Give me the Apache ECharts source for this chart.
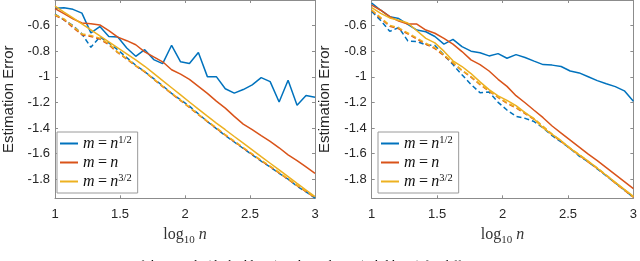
<!DOCTYPE html>
<html><head><meta charset="utf-8">
<script src="https://cdn.jsdelivr.net/npm/echarts@6/dist/echarts.min.js"></script>
<style>html,body{margin:0;padding:0;background:#fff}#c{width:640px;height:261px}</style>
</head><body><div id="c"></div>
<script>
// log10 n sample points
const xVals = [1.000,1.069,1.138,1.207,1.276,1.345,1.414,1.483,1.552,1.621,1.690,1.759,1.828,1.897,1.966,2.034,2.103,2.172,2.241,2.310,2.379,2.448,2.517,2.586,2.655,2.724,2.793,2.862,2.931,3.000];
const xTicks = [1, 1.5, 2, 2.5, 3];
const yTicks = [-1.8, -1.6, -1.4, -1.2, -1, -0.8, -0.6];
const legendNames = ['m = n^{1/2}', 'm = n', 'm = n^{3/2}'];

// Left panel
const leftSolidHalf = [-0.464,-0.461,-0.473,-0.503,-0.657,-0.608,-0.685,-0.690,-0.775,-0.840,-0.788,-0.866,-0.897,-0.754,-0.883,-0.897,-0.810,-0.999,-0.999,-1.094,-1.128,-1.100,-1.064,-1.007,-1.038,-1.197,-1.027,-1.223,-1.147,-1.160];
const leftSolidOne = [-0.468,-0.507,-0.548,-0.580,-0.586,-0.595,-0.640,-0.690,-0.718,-0.750,-0.806,-0.845,-0.883,-0.945,-0.980,-1.020,-1.075,-1.130,-1.190,-1.245,-1.310,-1.370,-1.413,-1.460,-1.505,-1.555,-1.610,-1.655,-1.705,-1.755];
const leftSolidThreeHalf = [-0.447,-0.494,-0.540,-0.587,-0.634,-0.681,-0.727,-0.775,-0.821,-0.868,-0.918,-0.974,-1.030,-1.086,-1.142,-1.197,-1.253,-1.308,-1.362,-1.414,-1.467,-1.519,-1.571,-1.624,-1.676,-1.728,-1.780,-1.833,-1.885,-1.937];
const leftDashHalf = [-0.510,-0.555,-0.600,-0.665,-0.770,-0.690,-0.735,-0.790,-0.850,-0.910,-0.960,-1.015,-1.070,-1.130,-1.180,-1.230,-1.290,-1.350,-1.405,-1.460,-1.510,-1.560,-1.610,-1.660,-1.705,-1.755,-1.800,-1.855,-1.900,-1.948];
const leftDashOne = [-0.520,-0.555,-0.615,-0.672,-0.685,-0.705,-0.750,-0.812,-0.862,-0.915,-0.962,-1.020,-1.077,-1.132,-1.186,-1.240,-1.297,-1.350,-1.403,-1.456,-1.507,-1.557,-1.607,-1.657,-1.703,-1.752,-1.802,-1.851,-1.897,-1.945];
const leftDashThreeHalf = [-0.515,-0.548,-0.605,-0.665,-0.678,-0.698,-0.742,-0.808,-0.858,-0.912,-0.958,-1.018,-1.073,-1.128,-1.183,-1.238,-1.293,-1.348,-1.398,-1.453,-1.503,-1.553,-1.603,-1.653,-1.698,-1.748,-1.798,-1.848,-1.893,-1.943];

// Right panel
const rightSolidHalf = [-0.425,-0.480,-0.530,-0.545,-0.590,-0.635,-0.648,-0.685,-0.745,-0.708,-0.765,-0.800,-0.812,-0.837,-0.819,-0.855,-0.827,-0.850,-0.878,-0.905,-0.909,-0.920,-0.955,-0.970,-1.000,-1.030,-1.055,-1.077,-1.110,-1.192];
const rightSolidOne = [-0.440,-0.480,-0.530,-0.565,-0.588,-0.588,-0.635,-0.660,-0.700,-0.745,-0.803,-0.868,-0.905,-0.955,-1.020,-1.075,-1.148,-1.203,-1.262,-1.320,-1.385,-1.440,-1.495,-1.550,-1.605,-1.655,-1.710,-1.765,-1.820,-1.875];
const rightSolidThreeHalf = [-0.460,-0.505,-0.540,-0.558,-0.580,-0.640,-0.700,-0.735,-0.800,-0.875,-0.920,-0.975,-1.040,-1.100,-1.150,-1.185,-1.225,-1.280,-1.330,-1.400,-1.450,-1.500,-1.560,-1.610,-1.660,-1.715,-1.770,-1.825,-1.880,-1.935];
const rightDashHalf = [-0.490,-0.560,-0.645,-0.615,-0.720,-0.725,-0.750,-0.755,-0.830,-0.905,-0.985,-1.060,-1.125,-1.120,-1.200,-1.260,-1.310,-1.325,-1.350,-1.400,-1.460,-1.510,-1.560,-1.620,-1.665,-1.720,-1.775,-1.830,-1.885,-1.945];
const rightDashOne = [-0.480,-0.545,-0.605,-0.625,-0.665,-0.705,-0.745,-0.780,-0.835,-0.893,-0.952,-1.003,-1.062,-1.112,-1.162,-1.207,-1.243,-1.288,-1.333,-1.392,-1.452,-1.507,-1.562,-1.612,-1.667,-1.717,-1.772,-1.832,-1.887,-1.942];
const rightDashThreeHalf = [-0.478,-0.538,-0.598,-0.618,-0.658,-0.698,-0.738,-0.772,-0.828,-0.888,-0.948,-0.998,-1.058,-1.108,-1.158,-1.203,-1.238,-1.283,-1.328,-1.388,-1.448,-1.503,-1.558,-1.608,-1.663,-1.713,-1.768,-1.828,-1.883,-1.940];

const colors = ['#0072BD', '#D95319', '#EDB120'];
const axisCol = '#8c8c8c';
const labCol = '#262626';

const grids = [
  {left: 51, top: -2.6, width: 264, height: 200.9},
  {left: 371.7, top: -2.6, width: 263.3, height: 200.9}
];

function xAx(gi, pos) {
  return {
    type: 'value', gridIndex: gi, position: pos, min: 1, max: 3, interval: 0.5,
    axisLine: {show: true, onZero: false, lineStyle: {color: axisCol, width: 1}},
    axisTick: {show: true, inside: true, length: 3, lineStyle: {color: axisCol}, customValues: xTicks},
    splitLine: {show: false},
    axisLabel: pos === 'bottom' ? {show: true, color: labCol, fontSize: 13, fontFamily: 'Liberation Sans', margin: 10, customValues: xTicks, formatter: v => String(v)} : {show: false},
    name: pos === 'bottom' ? '{r|log}{s|10}{i| n}' : '',
    nameLocation: 'middle', nameGap: 22,
    nameTextStyle: {
      color: labCol,
      rich: {
        r: {fontFamily: 'Liberation Serif', fontSize: 16, color: '#333', lineHeight: 20, verticalAlign: 'middle'},
        s: {fontFamily: 'Liberation Serif', fontSize: 11, color: '#333', verticalAlign: 'bottom', lineHeight: 20, padding: [8, 0, 0, 0]},
        i: {fontFamily: 'Liberation Serif', fontStyle: 'italic', fontSize: 16, color: '#333', lineHeight: 20, verticalAlign: 'middle'}
      }
    }
  };
}
function yAx(gi, pos) {
  return {
    type: 'value', gridIndex: gi, position: pos, min: -1.95, max: -0.4,
    axisLine: {show: true, onZero: false, lineStyle: {color: axisCol, width: 1}},
    axisTick: {show: true, inside: true, length: 3, lineStyle: {color: axisCol}, customValues: yTicks},
    splitLine: {show: false},
    axisLabel: pos === 'left' ? {show: true, color: labCol, fontSize: 13, fontFamily: 'Liberation Sans', margin: 5, customValues: yTicks, formatter: v => String(v)} : {show: false},
    name: pos === 'left' ? 'Estimation Error' : '',
    nameLocation: 'middle', nameGap: 39, nameRotate: 90,
    nameTextStyle: {color: labCol, fontSize: 15, fontFamily: 'Liberation Sans'}
  };
}

const xAxes = [xAx(0, 'bottom'), xAx(0, 'top'), xAx(1, 'bottom'), xAx(1, 'top')];
const yAxes = [yAx(0, 'left'), yAx(0, 'right'), yAx(1, 'left'), yAx(1, 'right')];

function mk(name, ys, color, dashed, xi, yi, z) {
  return {
    name: name, type: 'line', xAxisIndex: xi, yAxisIndex: yi,
    data: xVals.map((x, i) => [x, ys[i]]),
    symbol: 'none', animation: false, z: z,
    lineStyle: {color: color, width: 1.5, type: dashed ? [5, 3] : 'solid'},
    itemStyle: {color: color}
  };
}

const series = [
  mk('dL1', leftDashHalf, colors[0], true, 0, 0, 2),
  mk('dL2', leftDashOne, colors[1], true, 0, 0, 2),
  mk('dL3', leftDashThreeHalf, colors[2], true, 0, 0, 2),
  mk(legendNames[0], leftSolidHalf, colors[0], false, 0, 0, 3),
  mk(legendNames[1], leftSolidOne, colors[1], false, 0, 0, 3),
  mk(legendNames[2], leftSolidThreeHalf, colors[2], false, 0, 0, 3),
  mk('dR1', rightDashHalf, colors[0], true, 2, 2, 2),
  mk('dR2', rightDashOne, colors[1], true, 2, 2, 2),
  mk('dR3', rightDashThreeHalf, colors[2], true, 2, 2, 2),
  mk(legendNames[0], rightSolidHalf, colors[0], false, 2, 2, 3),
  mk(legendNames[1], rightSolidOne, colors[1], false, 2, 2, 3),
  mk(legendNames[2], rightSolidThreeHalf, colors[2], false, 2, 2, 3)
];

const legendRich = {
  i: {fontFamily: 'Liberation Serif', fontStyle: 'italic', fontSize: 16, color: '#111', lineHeight: 17},
  e: {fontFamily: 'Liberation Serif', fontSize: 16, color: '#111', lineHeight: 17},
  s: {fontFamily: 'Liberation Serif', fontSize: 10.5, color: '#111', lineHeight: 17, verticalAlign: 'top'}
};
function legFmt(n) {
  if (n === legendNames[0]) return '{i|m} {e|=} {i|n}{s|1/2}';
  if (n === legendNames[1]) return '{i|m} {e|=} {i|n}';
  return '{i|m} {e|=} {i|n}{s|3/2}';
}
function leg(left) {
  return {
    data: legendNames, orient: 'vertical', left: left, top: 132,
    selectedMode: false, icon: 'rect', itemWidth: 18, itemHeight: 2, itemGap: 2,
    padding: [3, 6, 3, 3], borderColor: '#9a9a9a', borderWidth: 1, backgroundColor: '#fff',
    formatter: legFmt,
    textStyle: {rich: legendRich, lineHeight: 17}
  };
}

const chart = echarts.init(document.getElementById('c'), null, {renderer: 'canvas'});
chart.setOption({
  animation: false,
  backgroundColor: '#fff',
  grid: grids,
  xAxis: xAxes,
  yAxis: yAxes,
  legend: [leg(57), leg(378)],
  series: series,
  graphic: [{
    type: 'text', left: 0, top: 258.8,
    style: {text: 'Fig. 3.  Estimation errors of the sample (dashed lines) and RandSum (solid lines) for diff', font: '13px "Liberation Serif"', fill: '#111'}
  }]
});
</script></body></html>
